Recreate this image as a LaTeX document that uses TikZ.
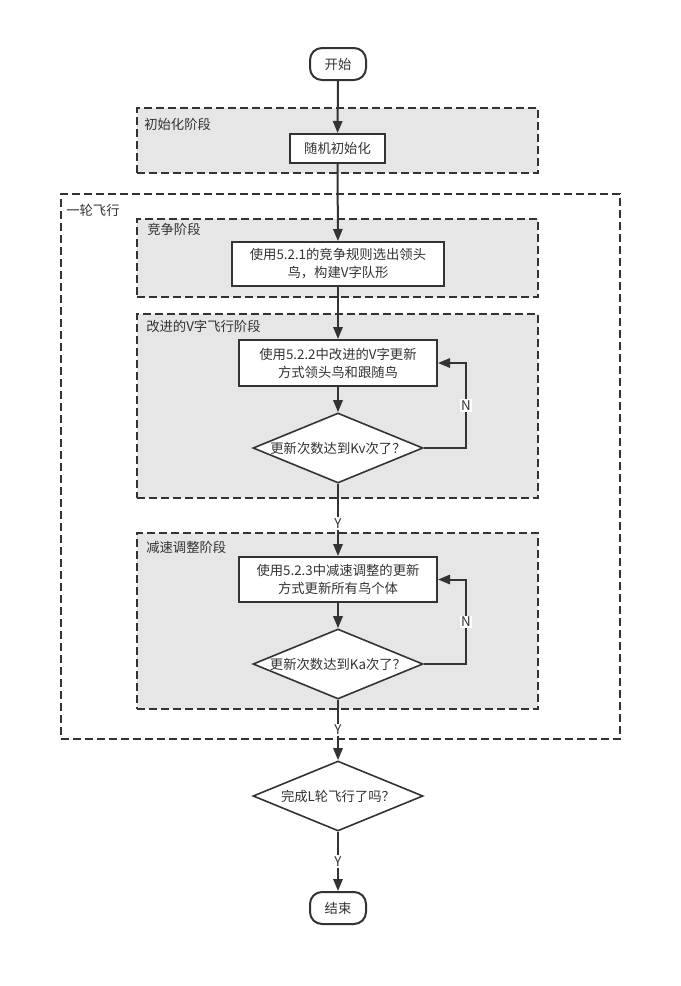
\documentclass[tikz,border=0pt]{standalone}
\usepackage{fontspec}
\setmainfont{Noto Sans CJK SC}
\usetikzlibrary{shapes.geometric,arrows.meta}
\definecolor{ink}{HTML}{333333}
\definecolor{groupfill}{HTML}{E6E6E6}
\begin{document}
\begin{tikzpicture}[x=0.75pt,y=-0.75pt,
  every node/.style={font=\fontsize{10pt}{13.5pt}\selectfont, text=ink},
  terminal/.style={draw=ink, line width=1.5pt, rounded corners=9pt, fill=white,
    minimum width=56*0.75pt, minimum height=32*0.75pt, inner sep=0pt},
  process/.style={draw=ink, line width=1.5pt, fill=white, inner sep=0pt, align=center},
  decision/.style={draw=ink, line width=1.2pt, fill=white, diamond, inner sep=0pt,
    minimum width=170*0.75pt, minimum height=70*0.75pt},
  group/.style={draw=ink, line width=1.2pt, dash pattern=on 6pt off 3pt, fill=groupfill,
    inner sep=0pt},
  outer/.style={draw=ink, line width=1.2pt, dash pattern=on 6pt off 3pt, inner sep=0pt},
  grouplabel/.style={anchor=west, inner sep=0pt},
  flow/.style={draw=ink, line width=1.5pt, -{Triangle[length=9pt,width=7pt]}},
  branch/.style={fill=white, inner sep=1pt, font=\fontsize{10pt}{11pt}\selectfont}
]
\useasboundingbox (0,0) rectangle (681,986);

% dashed frames
\node[outer, minimum width=559*0.75pt, minimum height=545*0.75pt] (round) at (340.5,466.5) {};
\node[grouplabel] (roundlbl) at (66,210) {一轮飞行};

\node[group, minimum width=401*0.75pt, minimum height=65*0.75pt] (ginit) at (337.5,140.5) {};
\node[grouplabel] (ginitlbl) at (144,124) {初始化阶段};

\node[group, minimum width=401*0.75pt, minimum height=78*0.75pt] (gcomp) at (337.5,258) {};
\node[grouplabel] (gcomplbl) at (147,229) {竞争阶段};

\node[group, minimum width=401*0.75pt, minimum height=184*0.75pt] (gv) at (337.5,406) {};
\node[grouplabel] (gvlbl) at (146,326) {改进的V字飞行阶段};

\node[group, minimum width=401*0.75pt, minimum height=176*0.75pt] (gdec) at (337.5,621) {};
\node[grouplabel] (gdeclbl) at (146,547) {减速调整阶段};

% flow nodes
\node[terminal] (start) at (338,64) {开始};
\node[process, minimum width=95*0.75pt, minimum height=29*0.75pt] (init) at (337.5,148.5) {随机初始化};
\node[process, minimum width=212*0.75pt, minimum height=44*0.75pt] (comp) at (338,264) {使用5.2.1的竞争规则选出领头\\鸟，构建V字队形};
\node[process, minimum width=198*0.75pt, minimum height=46*0.75pt] (vupd) at (338,363) {使用5.2.2中改进的V字更新\\方式领头鸟和跟随鸟};
\node[decision] (dv) at (338,448) {};
\node (dvtxt) at (dv) {更新次数达到Kv次了？};
\node[process, minimum width=198*0.75pt, minimum height=45*0.75pt] (dec) at (338,579.5) {使用5.2.3中减速调整的更新\\方式更新所有鸟个体};
\node[decision] (dd) at (338,664) {};
\node (ddtxt) at (dd) {更新次数达到Ka次了？};
\node[decision] (dl) at (338,796) {};
\node (dltxt) at (dl) {完成L轮飞行了吗？};
\node[terminal] (stop) at (338,908) {结束};

% connectors
\coordinate (vloop) at (466,448);
\coordinate (dloop) at (466,664);
\draw[flow] (start) -- (init);
\draw[flow] (init) -- (comp);
\draw[flow] (comp) -- (vupd);
\draw[flow] (vupd) -- (dv);
\draw[flow] (dv.east) -- (vloop) |- node[branch, pos=0.25] {N} (vupd.east);
\draw[flow] (dv.south) -- node[branch, pos=0.55] {Y} (dec.north);
\draw[flow] (dec) -- (dd);
\draw[flow] (dd.east) -- (dloop) |- node[branch, pos=0.25] {N} (dec.east);
\draw[flow] (dd.south) -- node[branch, pos=0.5] {Y} (dl.north);
\draw[flow] (dl.south) -- node[branch, pos=0.5] {Y} (stop.north);
\end{tikzpicture}
\end{document}
